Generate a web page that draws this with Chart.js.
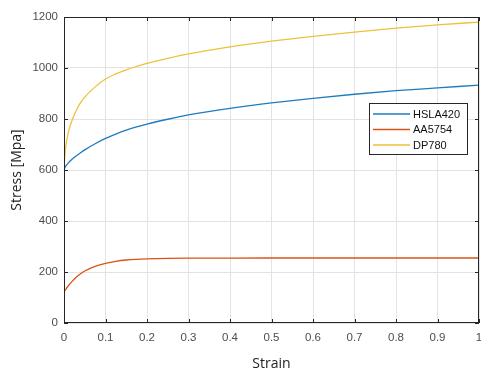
<!DOCTYPE html>
<html>
<head>
<meta charset="utf-8">
<script src="https://cdn.jsdelivr.net/npm/chart.js@4"></script>
<style>
  html, body { margin: 0; padding: 0; background: #fff; }
  #wrap { width: 481px; height: 376px; }
</style>
</head>
<body>
<div id="wrap"><canvas id="StressChart" width="481" height="376"></canvas></div>
<script>
// значения
var StrainSet = [0, 0.0025, 0.005, 0.01, 0.02, 0.03, 0.04, 0.05, 0.075, 0.1, 0.125, 0.15, 0.175, 0.2, 0.25, 0.3, 0.4, 0.5, 0.6, 0.7, 0.8, 0.9, 1.0];
var HSLA420 = [600, 611, 617, 627, 643, 656, 668, 679, 703, 724, 741, 756, 769, 780, 799, 816, 842, 863, 881, 897, 911, 922, 933];
var AA5754 = [122, 128, 134, 145, 164, 180, 193, 204, 222, 234, 242, 247, 249.8, 251.5, 253.5, 254.3, 254.8, 255, 255, 255, 255, 255, 255];
var DP780 = [600, 665, 700, 745, 797, 835, 864, 886, 926, 957, 977, 993, 1006, 1018, 1038, 1055, 1083, 1105, 1124, 1141, 1156, 1169, 1180];

var SeriesNames = ['HSLA420', 'AA5754', 'DP780'];
var SeriesColors = ['#1f7bbf', '#d95319', '#edc23a'];
var SeriesValues = [HSLA420, AA5754, DP780];

var XTicks = [0, 0.1, 0.2, 0.3, 0.4, 0.5, 0.6, 0.7, 0.8, 0.9, 1];
var YTicks = [0, 200, 400, 600, 800, 1000, 1200];

function getLineDataset(_label, _color, _values) {
    var _points = [];
    for (var i = 0; i < StrainSet.length; i++) {
        _points.push({ x: StrainSet[i], y: _values[i] });
    }
    return {
        label: _label,
        data: _points,
        borderColor: _color,
        backgroundColor: _color,
        borderWidth: 1.3,
        pointRadius: 0,
        fill: false,
        cubicInterpolationMode: 'monotone'
    };
}

// рамка осей, внутренние засечки и легенда в стиле MATLAB
var boxPlugin = {
    id: 'matlabBox',
    afterDatasetsDraw: function (chart) {
        var ctx = chart.ctx, a = chart.chartArea;
        var xs = chart.scales.x, ys = chart.scales.y;
        ctx.save();
        ctx.strokeStyle = '#262626';
        ctx.lineWidth = 1;
        ctx.strokeRect(Math.round(a.left) + 0.5, Math.round(a.top) + 0.5,
                       Math.round(a.right - a.left) - 1, Math.round(a.bottom - a.top) - 1);
        ctx.beginPath();
        XTicks.forEach(function (v) {
            var px = Math.round(xs.getPixelForValue(v)) + 0.5;
            ctx.moveTo(px, a.bottom); ctx.lineTo(px, a.bottom - 4);
            ctx.moveTo(px, a.top); ctx.lineTo(px, a.top + 4);
        });
        YTicks.forEach(function (v) {
            var py = Math.round(ys.getPixelForValue(v)) + 0.5;
            ctx.moveTo(a.left, py); ctx.lineTo(a.left + 4, py);
            ctx.moveTo(a.right, py); ctx.lineTo(a.right - 4, py);
        });
        ctx.stroke();

        // легенда
        var lx = 369.5, ly = 103.5, lw = 98, lh = 51;
        ctx.fillStyle = '#fff';
        ctx.fillRect(lx, ly, lw, lh);
        ctx.strokeStyle = '#262626';
        ctx.strokeRect(lx, ly, lw, lh);
        ctx.font = '11px "Liberation Sans", Arial, sans-serif';
        ctx.textBaseline = 'middle';
        ctx.textAlign = 'left';
        for (var i = 0; i < SeriesNames.length; i++) {
            var yy = 114 + i * 15.5;
            ctx.strokeStyle = SeriesColors[i];
            ctx.lineWidth = 1.3;
            ctx.beginPath();
            ctx.moveTo(373, yy); ctx.lineTo(410, yy);
            ctx.stroke();
            ctx.fillStyle = '#111';
            ctx.fillText(SeriesNames[i], 413, yy + 0.5);
        }
        ctx.restore();
    }
};

var datasets = [];
for (var i = 0; i < SeriesNames.length; i++) {
    datasets.push(getLineDataset(SeriesNames[i], SeriesColors[i], SeriesValues[i]));
}

var tickFont = { family: '"Liberation Sans", Arial, sans-serif', size: 11.5 };
var titleFont = { family: '"Open Sans", sans-serif', size: 14 };

var StressChart = new Chart(document.getElementById('StressChart'), {
    type: 'line',
    data: { datasets: datasets },
    plugins: [boxPlugin],
    options: {
        responsive: false,
        animation: false,
        layout: { padding: { top: 17, right: 2, left: 0, bottom: 0 } },
        plugins: { legend: { display: false }, tooltip: { enabled: false } },
        scales: {
            x: {
                type: 'linear', min: 0, max: 1,
                afterFit: function (s) { s.height = 53; s.paddingLeft = 0; s.paddingRight = 0; },
                afterBuildTicks: function (s) { s.ticks = XTicks.map(function (v) { return { value: v }; }); },
                ticks: { color: '#4d4d4d', font: tickFont, padding: 8, maxRotation: 0,
                         callback: function (v) { return String(v); } },
                grid: { color: '#e3e3e3', drawTicks: false },
                border: { display: false },
                title: { display: true, text: 'Strain', color: '#222', font: titleFont,
                         padding: { top: 0, bottom: 4 } }
            },
            y: {
                type: 'linear', min: 0, max: 1200,
                afterFit: function (s) { s.width = 64; s.paddingTop = 0; s.paddingBottom = 0; },
                afterBuildTicks: function (s) { s.ticks = YTicks.map(function (v) { return { value: v }; }); },
                ticks: { color: '#4d4d4d', font: tickFont, padding: 6,
                         callback: function (v) { return String(v); } },
                grid: { color: '#e3e3e3', drawTicks: false },
                border: { display: false },
                title: { display: true, text: 'Stress [Mpa]', color: '#222', font: titleFont,
                         padding: { top: 9, bottom: 0 } }
            }
        }
    }
});
</script>
</body>
</html>
